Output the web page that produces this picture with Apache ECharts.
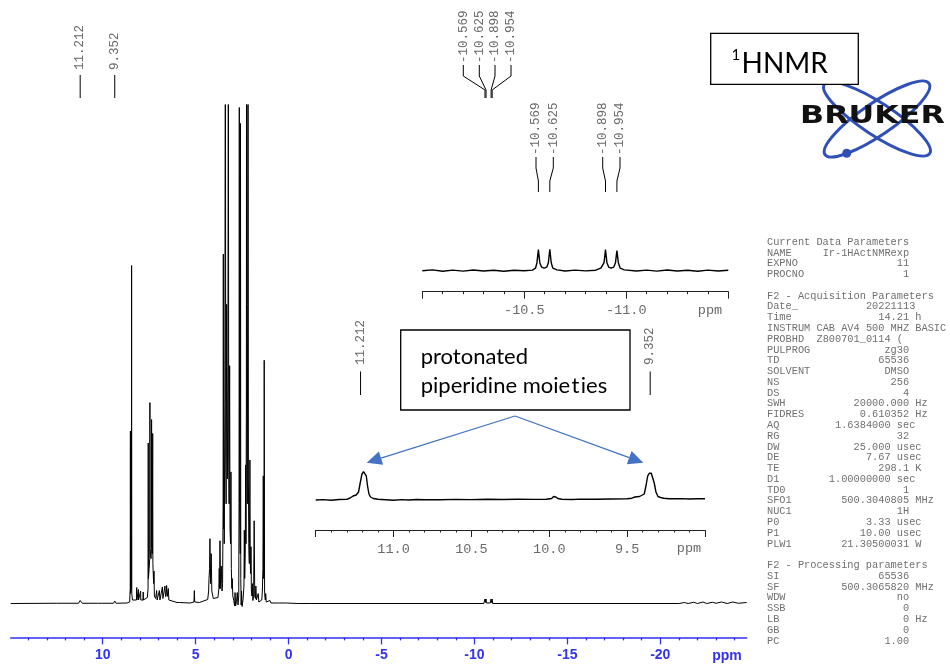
<!DOCTYPE html>
<html><head><meta charset="utf-8">
<script src="https://cdn.jsdelivr.net/npm/echarts@6/dist/echarts.min.js"></script>
<style>html,body{margin:0;padding:0;background:#fff}#c{width:950px;height:665px}</style>
</head><body><div id="c"></div>
<script>
// ---------- DATA ----------
// main 1H spectrum: [ppm, relative intensity] (100 = top of plot, >100 clipped)
const mainSpectrum = [
 [14.95,0],[12.5,0.05],[11.30,0.05],[11.25,0.2],[11.212,0.6],[11.17,0.2],[11.10,0.05],
 [10.28,0.05],[10.24,0.3],[10.20,0.05],[10.08,0.05],[10.05,0.3],[10.02,0.05],
 [9.42,0.05],[9.38,0.3],[9.352,0.5],[9.32,0.3],[9.28,0.05],[8.70,0.1],[8.55,0.3],
 [8.52,3],[8.51,34.6],[8.50,2],[8.455,3],[8.445,67.8],[8.435,2],[8.40,0.7],
 [8.18,0.7],[8.17,3.2],[8.16,0.7],[8.09,0.7],[8.08,2.8],[8.07,0.7],[7.97,0.7],[7.96,2.5],[7.95,0.7],[7.83,0.7],[7.82,2.3],[7.81,0.7],
 [7.60,1.2],[7.56,3],[7.55,32.2],[7.54,5],[7.50,7],[7.47,9],[7.46,40.3],[7.45,11],[7.40,9],[7.38,11],[7.37,36.9],[7.36,13],[7.33,10],[7.31,34.1],[7.30,8],[7.26,4],[7.24,6.5],[7.22,1.5],
 [7.15,1],[7.10,2.6],[7.07,0.7],[7.00,1],[6.95,2.6],[6.92,0.7],[6.85,1],[6.79,3.3],[6.76,1],[6.70,1.4],[6.65,3.5],[6.62,1.4],[6.58,2],[6.56,3.6],[6.53,1.4],[6.50,1.8],[6.47,3],[6.44,0.7],[6.40,0.3],
 [6.0,0.2],[5.86,0.2],[5.84,0.5],[5.82,0.2],[5.3,0.1],[5.09,0.3],[5.07,2.6],[5.05,0.3],[4.8,0.2],
 [4.35,0.8],[4.30,2.5],[4.28,5],[4.25,7],[4.23,13.0],[4.20,4],[4.16,10.0],[4.13,2.5],[4.05,1],
 [3.80,1.2],[3.75,3],[3.73,7.0],[3.71,3],[3.69,12.6],[3.66,3],[3.62,7.5],[3.58,2.5],[3.55,4],
 [3.52,20],[3.51,70.1],[3.50,15],[3.48,24.7],[3.46,12],[3.43,40],[3.40,130],[3.38,30],[3.36,20],[3.33,60],[3.31,31],[3.29,25],[3.26,50],[3.24,130],[3.22,30],[3.20,20],[3.17,47.7],[3.15,15],[3.12,12],[3.10,26.4],[3.08,7],[3.05,3],[3.03,5],[3.00,1.5],[2.95,0.6],[2.90,-0.5],[2.88,2.2],[2.85,-0.5],[2.80,0.4],[2.76,2.2],[2.72,-0.3],[2.68,1.5],
 [2.665,20],[2.65,99.5],[2.635,20],[2.60,10],[2.585,96.3],[2.57,5],[2.55,-0.3],[2.53,2.5],[2.50,-0.6],[2.45,0.8],[2.40,3.5],[2.38,14.7],[2.36,5],[2.33,10],[2.31,27.8],[2.29,12],[2.27,40],[2.26,130],[2.24,30],[2.22,20],[2.20,60],[2.18,130],[2.16,25],[2.14,12],[2.13,10],[2.11,8],[2.08,28.8],[2.06,8],[2.04,6],[2.02,11.4],[2.00,2.5],[1.97,1.5],[1.95,4],[1.92,0.6],[1.88,1.5],[1.85,16.6],[1.82,1.5],[1.78,1],[1.76,3.5],[1.73,0.7],[1.68,0.3],[1.63,2],[1.60,0.3],[1.50,0.2],[1.44,0.7],[1.41,2.5],[1.38,7],[1.36,25.6],[1.34,5],[1.32,9],[1.31,48.8],[1.29,2],[1.25,0.7],[1.23,2],[1.20,0.3],[1.10,0.2],[1.0,0.6],[0.95,0.1],[0.5,0.1],[0.12,0.1],[0.08,0.5],[0.04,0.1],[-0.5,0],[-1.2,0],
 [-10.50,0],[-10.55,0.2],[-10.569,0.9],[-10.59,0.2],[-10.625,0.9],[-10.65,0.1],[-10.85,0.1],[-10.898,0.9],[-10.92,0.2],[-10.954,0.9],[-10.98,0],
 [-21.0,0],[-21.3,0.2],[-21.5,0],[-21.8,0.25],[-22.0,0],[-22.3,0.3],[-22.5,0],[-22.8,0.25],[-23.0,0.05],[-23.3,0.3],[-23.6,0],[-23.9,0.3],[-24.2,0.05],[-24.65,0.2]
];
// inset 1: hydride region (-10.0 … -11.5 ppm)
const inset1Spectrum = [
 [-10.0,0],[-10.05,0.8],[-10.1,-0.5],[-10.15,0.6],[-10.2,-0.4],[-10.25,0.7],[-10.3,-0.3],[-10.35,0.5],[-10.4,-0.5],[-10.45,0.4],[-10.5,0],
 [-10.54,0.6],[-10.555,2.5],[-10.562,8],[-10.569,21],[-10.576,8],[-10.585,3.5],[-10.597,2.5],[-10.61,3.5],[-10.618,8],[-10.625,21.5],[-10.632,8],[-10.64,2.5],[-10.66,0.8],
 [-10.7,-0.3],[-10.75,0.6],[-10.8,-0.2],[-10.85,0.5],
 [-10.875,2.5],[-10.891,8],[-10.898,21],[-10.905,8],[-10.914,3.5],[-10.926,2.5],[-10.938,3.5],[-10.947,8],[-10.954,20],[-10.961,8],[-10.97,2.5],[-10.99,0.8],
 [-11.05,-0.3],[-11.1,0.6],[-11.15,-0.4],[-11.2,0.7],[-11.25,-0.3],[-11.3,0.5],[-11.35,-0.5],[-11.4,0.6],[-11.45,-0.3],[-11.5,0.4]
];
// inset 2: NH+ region (11.5 … 9.0 ppm)
const inset2Spectrum = [
 [11.5,0],[11.45,0.4],[11.4,-0.3],[11.35,0.5],[11.30,0.6],[11.279,2],[11.26,4],[11.24,5],[11.225,8],[11.213,18],[11.203,26],[11.193,28.3],[11.183,28],[11.175,24],[11.167,14],[11.158,6],[11.148,3],[11.13,1.5],[11.1,0.8],[11.05,0.3],
 [11.0,-0.2],[10.95,0.4],[10.9,0],[10.85,0.5],[10.8,0.2],[10.7,0.3],[10.6,0.6],[10.5,0.4],[10.4,0.7],[10.3,0.5],[10.2,0.8],[10.1,0.6],
 [10.02,0.8],[9.985,1.5],[9.972,3.5],[9.965,5.5],[9.958,3],[9.945,1.5],[9.92,0.8],[9.85,0.5],[9.8,0.9],[9.7,0.7],[9.6,1.0],[9.5,1.2],
 [9.47,1.8],[9.45,3],[9.42,3.5],[9.39,6],[9.378,15],[9.368,24],[9.358,26.7],[9.345,26.7],[9.335,25],[9.326,17],[9.315,8],[9.302,3.5],[9.285,2.5],[9.265,1.8],[9.23,1.3],[9.15,1.4],[9.1,1.0],[9.05,1.3],[9.0,1.2]
];
// axis ticks
const mainMajorTicks = [10,5,0,-5,-10,-15,-20];
const mainMinorTicks = [14,13,12,11,9,8,7,6,4,3,2,1,-1,-2,-3,-4,-6,-7,-8,-9,-11,-12,-13,-14,-16,-17,-18,-19,-21,-22,-23,-24];
const inset1MajorTicks = [-10.0,-10.5,-11.0,-11.5];
const inset1TickLabels = [-10.5,-11.0];
const inset1MinorTicks = [-10.1,-10.2,-10.3,-10.4,-10.6,-10.7,-10.8,-10.9,-11.1,-11.2,-11.3,-11.4];
const inset2MajorTicks = [11.5,11.0,10.5,10.0,9.5,9.0];
const inset2TickLabels = [11.0,10.5,10.0,9.5];
const inset2MinorTicks = [11.4,11.3,11.2,11.1,10.9,10.8,10.7,10.6,10.4,10.3,10.2,10.1,9.9,9.8,9.7,9.6,9.4,9.3,9.2,9.1];
// peak picks
const mainPeakLabels = [11.212, 9.352];
const hydridePeakLabels = [-10.569, -10.625, -10.898, -10.954];
const inset2PeakLabels = [11.212, 9.352];
// acquisition parameters
const paramLines = [
 ["Current Data Parameters"],["NAME","Ir-1HActNMRexp",""],["EXPNO","11",""],["PROCNO","1",""],[""],
 ["F2 - Acquisition Parameters"],["Date_","20221113","",24],["Time","14.21","h"],["INSTRUM","CAB AV4 500 MHZ BASIC","",29],
 ["PROBHD","Z800701_0114 (","",22],["PULPROG","zg30",""],["TD","65536",""],["SOLVENT","DMSO",""],["NS","256",""],["DS","4",""],
 ["SWH","20000.000","Hz"],["FIDRES","0.610352","Hz"],["AQ","1.6384000","sec"],["RG","32",""],["DW","25.000","usec"],
 ["DE","7.67","usec"],["TE","298.1","K"],["D1","1.00000000","sec"],["TD0","1",""],["SFO1","500.3040805","MHz"],["NUC1","1H",""],
 ["P0","3.33","usec"],["P1","10.00","usec"],["PLW1","21.30500031","W"],[""],
 ["F2 - Processing parameters"],["SI","65536",""],["SF","500.3065820","MHz"],["WDW","no",""],["SSB","0",""],["LB","0","Hz"],["GB","0",""],["PC","1.00",""]
];

// ---------- CHART ----------
const chart = echarts.init(document.getElementById('c'), null, {renderer:'canvas'});
const BLUE = '#3232f0';
const MONO = '"Liberation Mono", monospace';

function axisPair(grid, min, max, major, minor, labels, o) {
  const base = {type:'value', gridIndex:grid, min, max, inverse:true, position:'bottom', splitLine:{show:false}, minorTick:{show:false}, minorSplitLine:{show:false}};
  return [
    Object.assign({}, base, {
      axisLine:{show:true, onZero:false, lineStyle:{color:o.color, width:o.lw}},
      axisTick:{show:true, inside:false, length:o.majorLen, customValues:major, lineStyle:{color:o.color, width:o.tw}},
      axisLabel:{show:true, customValues:labels, margin:o.margin, color:o.labelColor, fontSize:o.fontSize, fontFamily:o.fontFamily, fontWeight:o.fontWeight, formatter:o.formatter}
    }),
    Object.assign({}, base, {
      axisLine:{show:false, onZero:false},
      axisTick:{show:true, inside:false, length:o.minorLen, customValues:minor, lineStyle:{color:o.color, width:o.tw}},
      axisLabel:{show:false}
    })
  ];
}

const xAxis = [].concat(
  axisPair(0, -24.65, 14.95, mainMajorTicks, mainMinorTicks, mainMajorTicks,
    {color:BLUE, lw:1.5, tw:1.3, majorLen:7, minorLen:3, margin:11, labelColor:BLUE, fontSize:14, fontFamily:'"Liberation Sans", Arial, sans-serif', fontWeight:'bold', formatter:v=>String(v)}),
  axisPair(1, -11.5, -10.0, inset1MajorTicks, inset1MinorTicks, inset1TickLabels,
    {color:'#222', lw:1, tw:1, majorLen:7, minorLen:2.5, margin:12, labelColor:'#6a6a6a', fontSize:13.5, fontFamily:MONO, fontWeight:'normal', formatter:v=>v.toFixed(1)}),
  axisPair(2, 9.0, 11.5, inset2MajorTicks, inset2MinorTicks, inset2TickLabels,
    {color:'#222', lw:1, tw:1, majorLen:7, minorLen:2.5, margin:12, labelColor:'#6a6a6a', fontSize:13.5, fontFamily:MONO, fontWeight:'normal', formatter:v=>v.toFixed(1)})
);

const option = {
  animation:false,
  backgroundColor:'#fff',
  grid:[
    {left:10.7, top:105, width:736, height:532.4, outerBoundsMode:'none', containLabel:false},
    {left:422.3, top:240.7, width:306, height:51, outerBoundsMode:'none', containLabel:false},
    {left:315.7, top:460, width:389.3, height:70, outerBoundsMode:'none', containLabel:false}
  ],
  xAxis,
  yAxis:[
    {type:'value', gridIndex:0, min:-6.8, max:100, show:false},
    {type:'value', gridIndex:1, min:-21, max:30, show:false},
    {type:'value', gridIndex:2, min:-30, max:40, show:false}
  ],
  series:[
    {type:'line', xAxisIndex:0, yAxisIndex:0, data:mainSpectrum, symbol:'none', clip:true, silent:true, lineStyle:{color:'#000', width:1}},
    {type:'line', xAxisIndex:2, yAxisIndex:1, data:inset1Spectrum, symbol:'none', clip:true, silent:true, lineStyle:{color:'#000', width:1.4}},
    {type:'line', xAxisIndex:4, yAxisIndex:2, data:inset2Spectrum, symbol:'none', clip:true, silent:true, lineStyle:{color:'#000', width:1.4}}
  ]
};
chart.setOption(option);

// ---------- ANNOTATIONS ----------
const px = (axisIdx, v) => chart.convertToPixel({xAxisIndex:axisIdx}, v);
const g = [];
function vtext(text, x, yBottom, size) {
  g.push({type:'text', x:x, y:yBottom, rotation:Math.PI/2, silent:true,
    style:{text:text, fill:'#6a6a6a', fontSize:size, fontFamily:MONO, textAlign:'left', textVerticalAlign:'middle', align:'left', verticalAlign:'middle'}});
}
function pline(points, color, w) {
  g.push({type:'polyline', silent:true, shape:{points:points}, style:{stroke:color||'#000', lineWidth:w||1, fill:null}});
}
// main picks
mainPeakLabels.forEach(p => { const x = px(0, p); vtext(p.toFixed(3), x, 70, 12.5); pline([[x,75],[x,98]]); });
const clusterX = [463.3, 479.3, 495, 511];
hydridePeakLabels.forEach((p,i) => { const x = px(0, p); const lx = clusterX[i];
  vtext(p.toFixed(3), lx, 63, 12.5); pline([[lx,65],[lx,76],[x,90],[x,98]]); });
// inset 1 picks
const inset1LabelX = [536, 553.3, 602.7, 620];
hydridePeakLabels.forEach((p,i) => { const x = px(2, p); const lx = inset1LabelX[i];
  vtext(p.toFixed(3), lx, 155, 12.5); pline([[lx,157],[lx,168],[x,181],[x,192]]); });
// inset 2 picks
inset2PeakLabels.forEach(p => { const x = px(4, p); vtext(p.toFixed(3), x, 365, 12.5); pline([[x,371.5],[x,395]]); });

// ppm labels
g.push({type:'text', x:727, y:656, silent:true, style:{text:'ppm', fill:BLUE, fontSize:14, fontWeight:'bold', fontFamily:'"Liberation Sans", Arial, sans-serif', textAlign:'center', textVerticalAlign:'middle', align:'center', verticalAlign:'middle'}});
g.push({type:'text', x:710, y:310.5, silent:true, style:{text:'ppm', fill:'#6a6a6a', fontSize:13.5, fontFamily:MONO, textAlign:'center', textVerticalAlign:'middle', align:'center', verticalAlign:'middle'}});
g.push({type:'text', x:689, y:548.5, silent:true, style:{text:'ppm', fill:'#6a6a6a', fontSize:13.5, fontFamily:MONO, textAlign:'center', textVerticalAlign:'middle', align:'center', verticalAlign:'middle'}});

// callout box
g.push({type:'rect', silent:true, shape:{x:400.7, y:330, width:229.3, height:80}, style:{fill:'#fff', stroke:'#000', lineWidth:1.3}});
g.push({type:'text', x:420.7, y:356.5, silent:true, style:{text:'protonated', fill:'#000', fontSize:22, fontFamily:'Lato, "Open Sans", sans-serif', textAlign:'left', textVerticalAlign:'middle', align:'left', verticalAlign:'middle'}});
g.push({type:'text', x:420.7, y:386, silent:true, style:{text:'piperidine moie\u200At\u200Aies', fill:'#000', fontSize:22, fontFamily:'Lato, "Open Sans", sans-serif', textAlign:'left', textVerticalAlign:'middle', align:'left', verticalAlign:'middle'}});
function arrow(x1,y1,x2,y2,color){
  const dx=x2-x1, dy=y2-y1, L=Math.hypot(dx,dy), ux=dx/L, uy=dy/L, hl=15, hw=7;
  const bx=x2-ux*hl, by=y2-uy*hl;
  g.push({type:'line', silent:true, shape:{x1:x1,y1:y1,x2:bx,y2:by}, style:{stroke:color, lineWidth:1.3}});
  g.push({type:'polygon', silent:true, shape:{points:[[x2,y2],[bx-uy*hw,by+ux*hw],[bx+uy*hw,by-ux*hw]]}, style:{fill:color}});
}
arrow(515,416,366.7,462.7,'#4472c4');
arrow(515,416,643.3,462.7,'#4472c4');

// Bruker logo
const LOGO = '#3050b8';
g.push({type:'ellipse', silent:true, x:877, y:119, rotation:-0.58, shape:{cx:0, cy:0, rx:63, ry:16}, style:{fill:null, stroke:LOGO, lineWidth:3}});
g.push({type:'ellipse', silent:true, x:877, y:119, rotation:0.6, shape:{cx:0, cy:0, rx:63, ry:16}, style:{fill:null, stroke:LOGO, lineWidth:3}});
g.push({type:'circle', silent:true, shape:{cx:846.7, cy:153.3, r:4.5}, style:{fill:LOGO}});
g.push({type:'text', x:800, y:117, scaleX:1.32, silent:true, style:{text:'BRUKER', fill:'#111', fontSize:24, fontWeight:900, fontFamily:'"DejaVu Sans", sans-serif', textAlign:'left', textVerticalAlign:'middle', align:'left', verticalAlign:'middle'}});
// 1HNMR box
g.push({type:'rect', silent:true, shape:{x:710.7, y:33.3, width:147.6, height:51}, style:{fill:'#fff', stroke:'#000', lineWidth:1.3}});
g.push({type:'text', x:731.5, y:55, silent:true, style:{text:'1', fill:'#000', fontSize:15, fontFamily:'Lato, sans-serif', textAlign:'left', textVerticalAlign:'middle', align:'left', verticalAlign:'middle'}});
g.push({type:'text', x:741.5, y:63.5, silent:true, style:{text:'HNMR', fill:'#000', fontSize:28, fontFamily:'Lato, sans-serif', textAlign:'left', textVerticalAlign:'middle', align:'left', verticalAlign:'middle'}});

// parameter block
const CW = 6.18, X0 = 767, Y0 = 242, LH = 10.78;
paramLines.forEach((ln, i) => {
  const y = Y0 + i*LH;
  const st = {fill:'#707070', fontSize:10.3, fontFamily:MONO, textVerticalAlign:'middle', verticalAlign:'middle'};
  if (!ln[0]) return;
  g.push({type:'text', x:X0, y:y, silent:true, style:Object.assign({text:ln[0], textAlign:'left', align:'left'}, st)});
  if (ln.length > 1) {
    const unit = ln[2];
    const end = ln[3] || ((unit==='sec'||unit==='usec') ? 20 : 23);
    g.push({type:'text', x:X0+end*CW, y:y, silent:true, style:Object.assign({text:ln[1], textAlign:'right', align:'right'}, st)});
    if (unit) g.push({type:'text', x:X0+(end+1)*CW, y:y, silent:true, style:Object.assign({text:unit, textAlign:'left', align:'left'}, st)});
  }
});

chart.setOption({graphic:{elements:g}});
</script></body></html>
